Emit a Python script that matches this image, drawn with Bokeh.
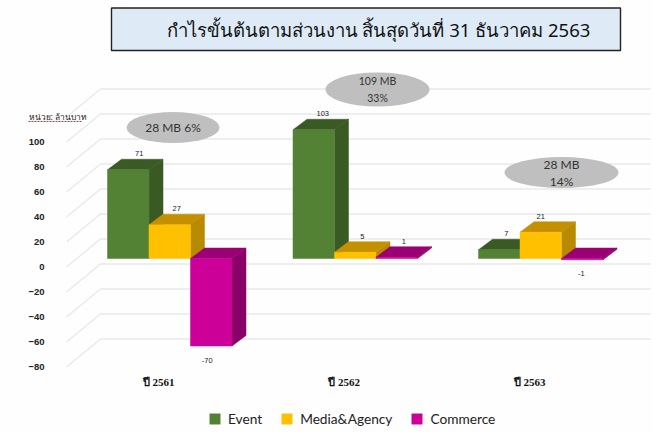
from bokeh.plotting import figure
from bokeh.models import Range1d, FixedTicker, Legend, LegendItem, ColumnDataSource
from bokeh.core.properties import value
from bokeh.embed import file_html
from bokeh.resources import INLINE

years = ["ปี 2561", "ปี 2562", "ปี 2563"]
event = [71, 103, 7]
media = [27, 5, 21]
commerce = [-70, 1, -1]
series_names = ["Event", "Media&Agency", "Commerce"]
y_ticks = [-80, -60, -40, -20, 0, 20, 40, 60, 80, 100]
title_text = "กำไรขั้นต้นตามส่วนงาน สิ้นสุดวันที่ 31 ธันวาคม 2563"
unit_text = "หน่วย: ล้านบาท"
bubble_lines = [["28 MB 6%"], ["109 MB", "33%"], ["28 MB", "14%"]]

# page pixel -> data scales
PX_X = 185.5
PX_Y = 1.25
W, H = 655, 432
def X(px): return (px - 159) / PX_X
def Y(py): return (266.5 - py) / PX_Y

p = figure(width=W, height=H, output_backend="svg", toolbar_location=None,
           x_range=Range1d(X(0), X(W)), y_range=Range1d(Y(H), Y(0)),
           min_border=0, min_border_left=0, min_border_right=0, min_border_top=0, min_border_bottom=0,
           background_fill_color="#fefefe", border_fill_color="#fefefe")
p.outline_line_color = None
p.grid.visible = False

# axes, living inside the frame
ya = p.yaxis[0]
ya.fixed_location = X(54)
ya.ticker = FixedTicker(ticks=y_ticks)
ya.axis_line_color = None
ya.major_tick_line_color = None
ya.minor_tick_line_color = None
ya.major_label_standoff = 4
ya.major_label_text_font = "Liberation Sans"
ya.major_label_text_font_style = "bold"
ya.major_label_text_font_size = "9.5px"
ya.major_label_text_color = "#222222"

xa = p.xaxis[0]
xa.fixed_location = Y(368)
xa.ticker = FixedTicker(ticks=[-0.005, 0.995, 1.995])
xa.major_label_overrides = {-0.005: years[0], 0.995: years[1], 1.995: years[2]}
xa.axis_line_color = None
xa.major_tick_line_color = None
xa.minor_tick_line_color = None
xa.major_label_standoff = 1
xa.major_label_text_font = "Liberation Serif"
xa.major_label_text_font_style = "bold"
xa.major_label_text_font_size = "11px"
xa.major_label_text_color = "#111111"

# 3-D grid: side-wall diagonals and back-wall lines
wall_dx = X(100) - X(66)
wall_dy = 28 / PX_Y
wall_x0 = X(66)
wall_x1 = X(650)
for t in y_ticks + [120]:
    p.line([wall_x0, wall_x0 + wall_dx, wall_x1], [t, t + wall_dy, t + wall_dy],
           line_color="#e9e9e9", line_width=1.4)

# 3-D bars
bar_w = 41.5 / PX_X
bar_start = -52 / PX_X
depth_x = 14 / PX_X
depth_y = 10.5 / PX_Y
base = 8.5 / PX_Y
styles = [("#548235", "#3a5a24", "#3a5a24"),
          ("#ffc000", "#c49000", "#b88a00"),
          ("#cc0099", "#9a0074", "#880068")]
rows = [event, media, commerce]
legend_items = []
for s, (vals, (front, top, side)) in enumerate(zip(rows, styles)):
    fx, fy, tx, ty, sx, sy = [], [], [], [], [], []
    for g, v in enumerate(vals):
        x0 = g + bar_start + s * bar_w
        x1 = x0 + bar_w
        lo, hi = min(v, 0) + base, max(v, 0) + base
        fx.append([x0, x1, x1, x0]); fy.append([lo, lo, hi, hi])
        tx.append([x0, x1, x1 + depth_x, x0 + depth_x])
        ty.append([hi, hi, hi + depth_y, hi + depth_y])
        sx.append([x1, x1 + depth_x, x1 + depth_x, x1])
        sy.append([lo, lo + depth_y, hi + depth_y, hi])
    p.patches(sx, sy, fill_color=side, line_color=side, line_width=0.5)
    p.patches(tx, ty, fill_color=top, line_color=top, line_width=0.5)
    r = p.patches(fx, fy, fill_color=front, line_color=front, line_width=0.5)
    legend_items.append(LegendItem(label=series_names[s], renderers=[r]))

# data labels (nudges in screen px)
nudge_x = [[11, 7, -4], [9, 7, 7], [7, 0, -1]]
lx, ly, lt, ox, oy = [], [], [], [], []
for s, vals in enumerate(rows):
    for g, v in enumerate(vals):
        lx.append(g + bar_start + (s + 0.5) * bar_w)
        ly.append(v + base)
        lt.append(str(v))
        ox.append(nudge_x[g][s])
        oy.append(14 if v < 0 else -16)
p.text(x="x", y="y", text="t", x_offset="ox", y_offset="oy",
       source=ColumnDataSource(dict(x=lx, y=ly, t=lt, ox=ox, oy=oy)),
       text_font=value("Liberation Sans"), text_font_size="7.5px", text_color="#222222",
       text_align="center", text_baseline="middle")

# total bubbles
bub_x = [X(172.5), X(377), X(561)]
bub_y = [Y(127), Y(89), Y(172)]
bub_w = [93, 104, 114]
bub_h = [31, 34, 31]
p.ellipse(bub_x, bub_y, width=bub_w, height=bub_h, width_units="screen", height_units="screen",
          fill_color="#bfbfbf", line_color=None)
line_font = [12, 10.5, 12]
for xx, yy, lines, fs in zip(bub_x, bub_y, bubble_lines, line_font):
    n = len(lines)
    for i, t in enumerate(lines):
        p.text([xx], [yy], text=[t], y_offset=(i - (n - 1) / 2) * 17,
               text_font=value("Lato"), text_font_size=f"{fs}px", text_color="#333333",
               text_align="center", text_baseline="middle")

# unit note with spell-check underline
p.text([X(28)], [Y(115.5)], text=[unit_text], text_font=value("Noto Sans"), text_font_size="8.4px",
       text_color="#222222", text_align="left", text_baseline="middle")
p.line([X(28), X(82)], [Y(121), Y(121)], line_color="#e03030", line_width=1.2, line_dash="2 1")

# title banner
p.quad(left=[X(111)], right=[X(620)], top=[Y(7.5)], bottom=[Y(50)],
       fill_color="#deebf7", line_color="#222222", line_width=1.4)
p.text([X(378)], [Y(29)], text=[title_text], text_font=value("Noto Sans"), text_font_size="18.5px",
       text_color="#111111", text_align="center", text_baseline="middle")

legend = Legend(items=legend_items, location=(208, H - 427), orientation="horizontal",
                background_fill_alpha=0, border_line_color=None, padding=0, margin=0,
                spacing=18, label_standoff=7, glyph_width=13, glyph_height=13,
                label_text_font="Lato", label_text_font_size="13.7px", label_text_color="#222222")
p.add_layout(legend)

open("out.html", "w").write(file_html(p, INLINE))
